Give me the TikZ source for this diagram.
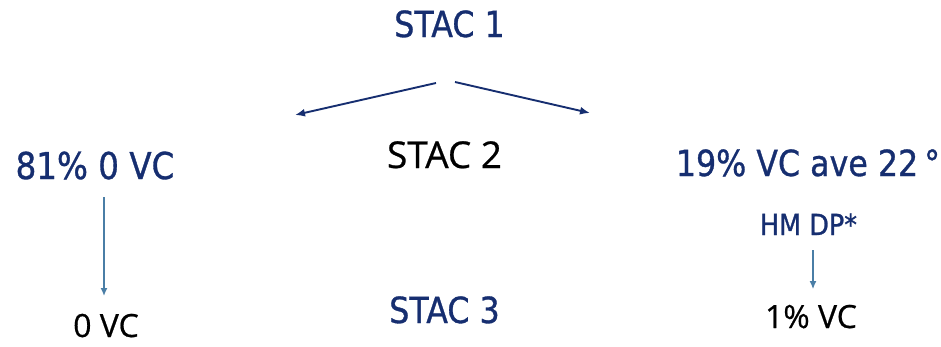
\documentclass[tikz,border=0pt]{standalone}
\usepackage{fontspec}
\setmainfont[FakeBold=0.6]{Open Sans}
\newfontfamily\bluefont[FakeStretch=0.88,FakeBold=0.9]{DejaVu Sans}
\usetikzlibrary{arrows.meta}
\definecolor{navy}{RGB}{22,46,112}
\definecolor{steel}{RGB}{74,126,166}
\tikzset{
  lbl/.style={anchor=base, inner sep=0pt},
  bluelbl/.style={lbl, text=navy, font=\bluefont\fontsize{36}{40}\selectfont},
  blacklbl/.style={lbl, text=black, font=\fontsize{37}{40}\selectfont},
  small/.style={font=\fontsize{32}{36}\selectfont},
  tiny/.style={font=\bluefont\fontsize{29}{32}\selectfont},
  split/.style={draw=navy, line width=1.9pt, -{Latex[length=10pt,width=8pt]}},
  down/.style={draw=steel, line width=1.5pt, -{Latex[length=8pt,width=7pt]}},
}
\begin{document}
\begin{tikzpicture}[x=1pt,y=-1pt]
\useasboundingbox (0,0) rectangle (941,346);
% stage labels down the middle
\node[bluelbl] (s1) at (449.5,37) {STAC 1};
\node[blacklbl] (s2) at (444.5,168) {STAC 2};
\node[bluelbl] (s3) at (444.5,323) {STAC 3};
% left branch
\node[bluelbl, font=\bluefont\fontsize{37}{40}\selectfont] (l1) at (95,179) {81\% 0 VC};
\node[blacklbl, small] (l2) at (106,337) {0 VC};
% right branch
\node[bluelbl] (r1) at (808,176) {19\% VC ave 22\,°};
\node[bluelbl, tiny] (r2) at (808.5,235) {HM DP*};
\node[blacklbl, small] (r3) at (811,328) {1\% VC};
% arrow end points
\coordinate (sl) at (436,83);
\coordinate (sr) at (455,82);
\coordinate (el) at (295,115);
\coordinate (er) at (590,113);
\coordinate (dl0) at (104,197);
\coordinate (dl1) at (104,296);
\coordinate (dr0) at (813,250);
\coordinate (dr1) at (813,289);
\draw[split] (sl) -- (el);
\draw[split] (sr) -- (er);
\draw[down] (dl0) -- (dl1);
\draw[down, line width=1.1pt] (dr0) -- (dr1);
\end{tikzpicture}
\end{document}
